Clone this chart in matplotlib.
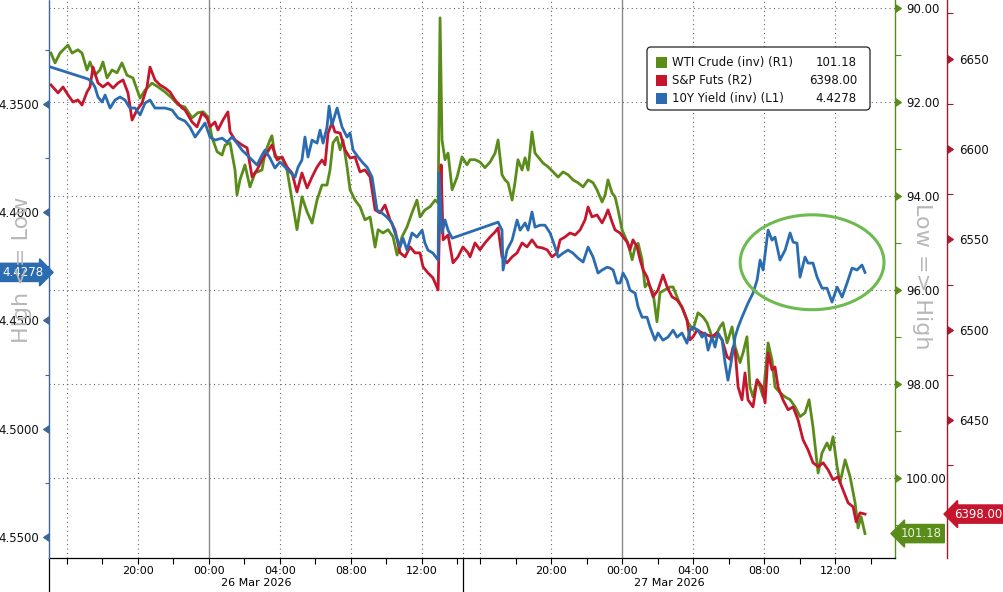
import matplotlib
matplotlib.use("Agg")
import matplotlib.pyplot as plt
import matplotlib.transforms as mtransforms
from matplotlib import markers
from matplotlib.patches import Ellipse, FancyBboxPatch, Rectangle

plt.rcParams['font.family'] = ['DejaVu Sans']

# time axis: hours since 15:00 on 25 Mar 2026, sessions packed back to back
SESSION = 23.3

wti_t = [0.11, 0.34, 0.62, 1.07, 1.30, 1.63, 1.86, 2.14, 2.31, 2.59,
         2.87, 3.04, 3.27, 3.55, 3.83, 4.11, 4.39, 4.73, 5.13, 5.41,
         5.80, 6.14, 6.54, 6.93, 7.27, 7.66, 8.06, 8.39, 8.68, 8.96,
         9.18, 9.47, 9.75, 9.92, 10.20, 10.48, 10.59, 10.76, 11.04, 11.32,
         11.61, 12.00, 12.17, 12.45, 12.56, 12.73, 13.13, 13.41, 13.69, 13.97,
         14.25, 14.54, 14.82, 15.10, 15.38, 15.66, 15.83, 16.00, 16.23, 16.40,
         16.56, 16.79, 16.96, 17.24, 17.52, 17.80, 18.09, 18.37, 18.54, 18.82,
         19.10, 19.38, 19.61, 19.89, 20.17, 20.45, 20.73, 20.90, 21.18, 21.47,
         21.75, 21.92, 22.03, 22.14, 22.31, 22.48, 22.71, 22.99, 23.27, 23.55,
         23.72, 24.00, 24.28, 24.56, 24.85, 25.13, 25.30, 25.52, 25.69, 25.86,
         26.09, 26.25, 26.42, 26.65, 26.82, 26.99, 27.21, 27.38, 27.55, 27.83,
         28.11, 28.40, 28.68, 28.96, 29.24, 29.52, 29.80, 30.09, 30.37, 30.65,
         30.87, 31.16, 31.33, 31.49, 31.72, 31.89, 32.06, 32.28, 32.45, 32.62,
         32.85, 33.02, 33.19, 33.41, 33.58, 33.75, 34.03, 34.25, 34.42, 34.71,
         34.99, 35.16, 35.44, 35.72, 36.00, 36.28, 36.56, 36.85, 37.07, 37.35,
         37.52, 37.80, 37.97, 38.20, 38.48, 38.65, 38.93, 39.10, 39.32, 39.49,
         39.66, 39.89, 40.06, 40.23, 40.51, 40.73, 40.90, 41.18, 41.47, 41.75,
         42.03, 42.31, 42.59, 42.82, 43.04, 43.33, 43.55, 43.83, 44.00, 44.17,
         44.40, 44.56, 44.85, 45.13, 45.41, 45.58, 45.75, 45.97]
wti = [90.95, 91.16, 90.95, 90.78, 90.95, 90.88, 90.95, 91.31, 91.14, 91.42,
       91.31, 91.14, 91.48, 91.31, 91.37, 91.16, 91.42, 91.48, 91.91, 91.74,
       91.59, 91.67, 91.78, 91.91, 92.05, 92.10, 92.33, 92.22, 92.20, 92.31,
       92.74, 93.05, 93.12, 92.91, 92.86, 93.44, 93.97, 93.65, 93.33, 93.80,
       93.50, 93.44, 93.08, 92.80, 92.71, 93.16, 93.18, 93.44, 94.08, 94.71,
       94.01, 94.33, 94.57, 94.08, 93.76, 93.76, 93.44, 92.86, 92.74, 93.01,
       92.80, 93.37, 93.86, 94.08, 94.22, 94.50, 94.44, 95.08, 94.71, 94.78,
       94.71, 94.86, 95.25, 94.86, 94.65, 94.35, 94.08, 94.44, 94.29, 94.22,
       94.08, 94.14, 90.20, 92.80, 93.22, 93.08, 93.86, 93.59, 93.16, 93.33,
       93.22, 93.22, 93.27, 93.39, 93.27, 93.08, 92.80, 93.54, 93.65, 93.71,
       94.08, 93.71, 93.22, 93.44, 93.18, 93.44, 92.63, 93.08, 93.16, 93.29,
       93.37, 93.48, 93.59, 93.48, 93.54, 93.65, 93.71, 93.80, 93.65, 93.71,
       93.86, 94.12, 93.97, 93.65, 93.93, 94.01, 94.29, 94.71, 94.86, 95.00,
       95.35, 95.08, 95.00, 95.35, 95.93, 95.84, 96.05, 96.67, 96.05, 95.99,
       95.93, 95.93, 96.20, 96.42, 96.69, 96.84, 96.48, 96.57, 96.69, 96.99,
       96.99, 96.78, 96.69, 97.12, 96.78, 97.20, 97.54, 97.33, 96.99, 98.06,
       98.27, 97.91, 98.06, 98.27, 97.12, 97.48, 98.06, 98.18, 98.27, 98.33,
       98.48, 98.69, 98.61, 98.33, 98.91, 99.89, 99.46, 99.25, 99.40, 99.12,
       99.76, 100.10, 99.61, 99.97, 100.52, 101.06, 100.82, 101.18]

spx_t = [0.11, 0.51, 0.79, 1.07, 1.35, 1.63, 1.86, 2.14, 2.31, 2.48,
         2.76, 3.04, 3.32, 3.61, 3.89, 4.17, 4.45, 4.68, 4.96, 5.24,
         5.52, 5.69, 5.97, 6.25, 6.54, 6.82, 7.10, 7.49, 7.66, 8.06,
         8.34, 8.62, 8.90, 9.07, 9.35, 9.52, 9.80, 10.08, 10.20, 10.48,
         10.87, 11.16, 11.44, 11.72, 12.00, 12.28, 12.56, 12.85, 13.13, 13.41,
         13.69, 13.97, 14.25, 14.54, 14.82, 15.10, 15.38, 15.55, 15.72, 15.94,
         16.11, 16.40, 16.68, 16.96, 17.24, 17.52, 17.80, 18.09, 18.37, 18.65,
         18.93, 19.21, 19.49, 19.78, 20.06, 20.34, 20.62, 20.90, 21.07, 21.35,
         21.63, 21.92, 22.03, 22.09, 22.20, 22.48, 22.76, 23.04, 23.32, 23.61,
         23.72, 24.00, 24.28, 24.56, 24.85, 25.13, 25.30, 25.52, 25.80, 26.09,
         26.37, 26.65, 26.93, 27.21, 27.49, 27.78, 28.06, 28.34, 28.62, 28.79,
         29.07, 29.35, 29.64, 29.92, 30.20, 30.37, 30.59, 30.87, 31.16, 31.33,
         31.49, 31.72, 31.89, 32.17, 32.34, 32.56, 32.73, 32.90, 33.13, 33.30,
         33.47, 33.69, 33.86, 34.03, 34.31, 34.59, 34.82, 35.10, 35.38, 35.66,
         35.94, 36.11, 36.28, 36.51, 36.79, 37.07, 37.35, 37.63, 37.92, 38.20,
         38.37, 38.54, 38.65, 38.82, 39.04, 39.21, 39.38, 39.66, 39.89, 40.17,
         40.34, 40.51, 40.73, 40.90, 41.07, 41.35, 41.64, 41.92, 42.20, 42.48,
         42.76, 43.04, 43.33, 43.61, 43.89, 44.17, 44.45, 44.73, 45.02, 45.30,
         45.47, 45.69, 45.97]
spx = [6635.4, 6631.0, 6634.3, 6629.9, 6626.0, 6627.1, 6624.3, 6631.5, 6634.3, 6645.3,
       6636.5, 6634.3, 6636.5, 6633.7, 6636.5, 6638.2, 6631.0, 6616.0, 6621.6, 6625.4,
       6634.3, 6645.3, 6638.2, 6635.4, 6633.7, 6631.5, 6627.1, 6622.7, 6621.6, 6614.9,
       6612.2, 6619.9, 6617.1, 6612.2, 6614.9, 6610.5, 6616.0, 6620.5, 6609.4, 6605.0,
       6602.2, 6600.6, 6584.5, 6588.4, 6593.9, 6597.8, 6602.2, 6593.9, 6595.6, 6590.0,
       6586.7, 6576.2, 6586.7, 6578.4, 6584.5, 6590.0, 6593.9, 6591.2, 6608.8, 6614.4,
       6609.4, 6608.8, 6599.4, 6595.0, 6595.6, 6587.3, 6588.4, 6584.5, 6566.3, 6564.6,
       6569.0, 6560.8, 6555.2, 6542.5, 6540.3, 6545.8, 6542.5, 6542.5, 6534.8, 6531.4,
       6528.7, 6522.0, 6571.8, 6591.2, 6549.7, 6552.4, 6537.0, 6540.3, 6545.8, 6542.5,
       6540.3, 6548.0, 6544.2, 6548.0, 6551.3, 6554.1, 6556.3, 6540.3, 6537.0, 6540.3,
       6542.5, 6548.0, 6545.8, 6549.7, 6545.8, 6545.3, 6544.2, 6540.3, 6542.5, 6549.7,
       6551.3, 6553.5, 6552.4, 6555.2, 6560.8, 6567.9, 6562.4, 6563.5, 6559.1, 6562.4,
       6566.3, 6559.6, 6555.2, 6553.5, 6551.3, 6548.6, 6544.2, 6549.7, 6545.8, 6538.6,
       6533.1, 6529.2, 6523.7, 6518.2, 6522.0, 6530.3, 6523.7, 6518.2, 6516.5, 6512.6,
       6505.4, 6494.4, 6496.0, 6499.9, 6498.3, 6497.2, 6496.0, 6498.3, 6494.4, 6485.0,
       6483.6, 6490.5, 6488.8, 6468.4, 6461.2, 6476.1, 6461.2, 6457.3, 6472.3, 6468.4,
       6459.5, 6487.2, 6477.8, 6479.4, 6468.4, 6461.2, 6455.7, 6457.3, 6450.1, 6439.1,
       6433.6, 6426.4, 6424.2, 6426.4, 6422.5, 6417.0, 6418.6, 6411.4, 6404.2, 6402.0,
       6393.7, 6398.7, 6398.0]

yld_t = [0.11, 2.20, 2.42, 2.59, 2.76, 2.99, 3.16, 3.44, 3.72, 4.00,
         4.28, 4.56, 4.85, 5.13, 5.41, 5.69, 5.97, 6.54, 6.93, 7.27,
         7.66, 7.94, 8.23, 8.51, 8.79, 9.07, 9.35, 9.75, 10.03, 10.31,
         10.59, 10.87, 11.16, 11.44, 11.72, 12.00, 12.17, 12.45, 12.73, 13.01,
         13.30, 13.58, 13.86, 14.03, 14.25, 14.42, 14.59, 14.82, 15.10, 15.27,
         15.44, 15.66, 15.78, 15.94, 16.23, 16.51, 16.79, 16.96, 17.13, 17.41,
         17.69, 17.92, 18.20, 18.37, 18.48, 18.76, 19.04, 19.32, 19.49, 19.78,
         19.94, 20.17, 20.45, 20.73, 21.02, 21.18, 21.35, 21.63, 21.92, 21.97,
         22.14, 22.31, 22.48, 22.71, 25.30, 25.52, 25.58, 25.80, 26.09, 26.37,
         26.54, 26.82, 26.99, 27.21, 27.38, 27.66, 27.94, 28.23, 28.51, 28.68,
         28.96, 29.24, 29.52, 29.80, 30.09, 30.37, 30.65, 30.93, 31.16, 31.44,
         31.61, 31.78, 32.00, 32.17, 32.34, 32.56, 32.73, 33.02, 33.19, 33.41,
         33.69, 33.86, 34.14, 34.31, 34.59, 34.87, 35.16, 35.38, 35.66, 35.94,
         36.11, 36.28, 36.56, 36.79, 36.96, 37.13, 37.35, 37.52, 37.69, 37.92,
         38.09, 38.25, 38.48, 38.65, 38.82, 39.04, 39.21, 39.38, 39.66, 39.89,
         40.06, 40.23, 40.51, 40.73, 40.90, 41.18, 41.47, 41.75, 41.92, 42.14,
         42.31, 42.59, 42.76, 43.04, 43.27, 43.55, 43.83, 44.11, 44.40, 44.68,
         44.96, 45.24, 45.52, 45.80, 45.97]
yld = [4.3330, 4.3385, 4.3399, 4.3422, 4.3468, 4.3491, 4.3459, 4.3519, 4.3482, 4.3468,
       4.3482, 4.3519, 4.3519, 4.3551, 4.3496, 4.3482, 4.3519, 4.3519, 4.3528, 4.3565,
       4.3579, 4.3607, 4.3653, 4.3621, 4.3588, 4.3653, 4.3667, 4.3658, 4.3676, 4.3653,
       4.3681, 4.3713, 4.3736, 4.3759, 4.3782, 4.3736, 4.3713, 4.3750, 4.3796, 4.3768,
       4.3792, 4.3815, 4.3838, 4.3792, 4.3759, 4.3653, 4.3745, 4.3667, 4.3681, 4.3621,
       4.3681, 4.3607, 4.3510, 4.3598, 4.3519, 4.3607, 4.3653, 4.3634, 4.3713, 4.3745,
       4.3773, 4.3792, 4.3838, 4.3930, 4.3990, 4.4004, 4.4023, 4.4050, 4.4096, 4.4161,
       4.4120, 4.4175, 4.4096, 4.4115, 4.4083, 4.4143, 4.4175, 4.4189, 4.4221, 4.3819,
       4.4096, 4.4036, 4.4083, 4.4120, 4.4046, 4.4083, 4.4267, 4.4175, 4.4129, 4.4036,
       4.4083, 4.4050, 4.4083, 4.3999, 4.4069, 4.4060, 4.4060, 4.4096, 4.4161, 4.4207,
       4.4189, 4.4175, 4.4189, 4.4212, 4.4230, 4.4161, 4.4207, 4.4281, 4.4267, 4.4254,
       4.4258, 4.4267, 4.4327, 4.4327, 4.4281, 4.4314, 4.4360, 4.4374, 4.4438, 4.4485,
       4.4485, 4.4531, 4.4591, 4.4558, 4.4591, 4.4577, 4.4545, 4.4577, 4.4558, 4.4605,
       4.4545, 4.4531, 4.4545, 4.4577, 4.4558, 4.4637, 4.4577, 4.4623, 4.4558, 4.4591,
       4.4697, 4.4776, 4.4669, 4.4577, 4.4531, 4.4485, 4.4452, 4.4420, 4.4374, 4.4314,
       4.4221, 4.4267, 4.4083, 4.4129, 4.4115, 4.4221, 4.4175, 4.4096, 4.4138, 4.4143,
       4.4300, 4.4207, 4.4235, 4.4235, 4.4300, 4.4351, 4.4351, 4.4415, 4.4346, 4.4392,
       4.4327, 4.4258, 4.4267, 4.4244, 4.4278]

assert len(wti_t) == len(wti) and len(spx_t) == len(spx) and len(yld_t) == len(yld)

sessions = [0.0, SESSION]
session_dates = ['26 Mar 2026', '27 Mar 2026']
tick_clock = [16, 18, 20, 22, 0, 2, 4, 6, 8, 10, 12, 14]
label_clock = [20, 0, 4, 8, 12]
grid_clock = [16, 20, 4, 8, 12]

GREEN = '#5a8c1a'
RED = '#c5162e'
BLUE = '#2b6cb0'
GRID = '#666666'

W, H = 1004, 592
fig = plt.figure(figsize=(W / 100, H / 100), dpi=100)
L, R, B = 49, 895, 558
ax_g = fig.add_axes([L / W, 1 - B / H, (R - L) / W, B / H])
ax_r = ax_g.twinx()
ax_b = ax_g.twinx()

ax_g.set_xlim(0, 47.66)
ax_g.set_ylim(101.70, 89.82)
ax_r.set_ylim(6373.7, 6682.4)
ax_b.set_ylim(4.5597, 4.302)

ax_g.plot(wti_t, wti, color=GREEN, lw=2.0, solid_joinstyle='round')
ax_r.plot(spx_t, spx, color=RED, lw=2.0, solid_joinstyle='round')
ax_b.plot(yld_t, yld, color=BLUE, lw=2.0, solid_joinstyle='round')

for a in (ax_g, ax_r, ax_b):
    for s in a.spines.values():
        s.set_visible(False)
ax_g.spines['bottom'].set_visible(True)
ax_g.spines['bottom'].set_color('black')
ax_g.spines['bottom'].set_linewidth(0.9)
ax_g.spines['right'].set_visible(True)
ax_g.spines['right'].set_color(GREEN)
ax_g.spines['right'].set_linewidth(1.0)
ax_r.spines['right'].set_visible(True)
ax_r.spines['right'].set_color('#9e1a2c')
ax_r.spines['right'].set_linewidth(1.0)
ax_r.spines['right'].set_position(('outward', 52 * 0.72))
ax_b.spines['left'].set_visible(True)
ax_b.spines['left'].set_color('#3d6896')
ax_b.spines['left'].set_linewidth(1.0)
ax_b.spines['left'].set_linestyle((0, (1.5, 1)))

def pos(start, h):
    return start + (h - 15) % 24

# x axis
maj = [pos(s, h) for s in sessions for h in label_clock]
mnr = [pos(s, h) for s in sessions for h in tick_clock if h not in label_clock]
ax_g.set_xticks(maj)
ax_g.set_xticklabels([f'{h:02d}:00' for s in sessions for h in label_clock])
ax_g.set_xticks(mnr, minor=True)
ax_g.tick_params(axis='x', which='both', length=4, width=0.8, color='black',
                 direction='out', labelsize=8, pad=1.5)

for s in sessions:
    for h in grid_clock:
        ax_g.axvline(pos(s, h), color=GRID, lw=0.8, ls=(0, (1, 3)), zorder=0)
    ax_g.axvline(pos(s, 0), color='#8a8a8a', lw=1.0, zorder=0)
ax_g.axvline(SESSION, color=GRID, lw=0.8, ls=(0, (1, 3)), zorder=0)

xblend = mtransforms.blended_transform_factory(ax_g.transData, ax_g.transAxes)
for s, d in zip(sessions, session_dates):
    ax_g.plot([s, s], [0, -0.065], transform=xblend, color='black', lw=0.9,
              clip_on=False)
    ax_g.text(s + SESSION / 2, -0.045, d, transform=xblend, ha='center',
              va='center', fontsize=8)

# green axis (WTI, inverted)
ax_g.yaxis.tick_right()
ax_g.set_yticks(range(90, 101, 2))
ax_g.set_yticklabels([f'{v:.2f}' for v in range(90, 101, 2)])
ax_g.set_yticks(range(91, 102, 2), minor=True)
ax_g.tick_params(axis='y', which='major', length=6, width=0.8, labelsize=8.5,
                 pad=2, labelcolor='#111111')
ax_g.tick_params(axis='y', which='minor', length=4, width=0.8, color=GREEN)
ax_g.yaxis.grid(True, which='major', color=GRID, lw=0.8, ls=(0, (1, 3)))

# red axis (S&P)
spx_ticks = [6450, 6500, 6550, 6600, 6650]
ax_r.set_yticks(spx_ticks)
ax_r.set_yticklabels([str(v) for v in spx_ticks])
ax_r.set_yticks([6425, 6475, 6525, 6575, 6625, 6675], minor=True)
ax_r.tick_params(axis='y', which='major', length=6, width=0.8, labelsize=8.5,
                 pad=3, labelcolor='#111111')
ax_r.tick_params(axis='y', which='minor', length=4, width=0.8, color='#9e1a2c')

# blue axis (10Y, inverted, left)
ax_b.yaxis.tick_left()
yld_ticks = [4.35, 4.40, 4.45, 4.50, 4.55]
ax_b.set_yticks(yld_ticks)
ax_b.set_yticklabels([f'{v:.4f}' for v in yld_ticks])
ax_b.set_yticks([4.325, 4.375, 4.425, 4.475, 4.525], minor=True)
ax_b.tick_params(axis='y', which='major', length=6, width=0.8, labelsize=8.5,
                 pad=1, labelcolor='#111111')
ax_b.tick_params(axis='y', which='minor', length=3, width=0.8, color='#3d6896')

for t in ax_g.yaxis.get_major_ticks():
    t.tick2line.set_marker(markers.CARETRIGHTBASE)
    t.tick2line.set_markerfacecolor(GREEN)
    t.tick2line.set_markeredgecolor(GREEN)
for t in ax_r.yaxis.get_major_ticks():
    t.tick2line.set_marker(markers.CARETRIGHTBASE)
    t.tick2line.set_markerfacecolor('#b01a30')
    t.tick2line.set_markeredgecolor('#b01a30')
for t in ax_b.yaxis.get_major_ticks():
    t.tick1line.set_marker(markers.CARETLEFTBASE)
    t.tick1line.set_markerfacecolor('#3d6896')
    t.tick1line.set_markeredgecolor('#3d6896')

# last-value tags
bb = mtransforms.blended_transform_factory(ax_b.transAxes, ax_b.transData)
ax_b.text(-0.031, yld[-1], f'{yld[-1]:.4f}', transform=bb, ha='center', va='center',
          color='white', fontsize=8.5, clip_on=False, zorder=10,
          bbox=dict(boxstyle='rarrow,pad=0.22', fc=BLUE, ec=BLUE))
bg = mtransforms.blended_transform_factory(ax_g.transAxes, ax_g.transData)
ax_g.text(1.031, wti[-1], f'{wti[-1]:.2f}', transform=bg, ha='center', va='center',
          color='#eaf5da', fontsize=8.5, clip_on=False, zorder=10,
          bbox=dict(boxstyle='larrow,pad=0.22', fc=GREEN, ec=GREEN))
br = mtransforms.blended_transform_factory(ax_r.transAxes, ax_r.transData)
ax_r.text(1.098, spx[-1], f'{spx[-1]:.2f}', transform=br, ha='center', va='center',
          color='white', fontsize=8.5, clip_on=False, zorder=10,
          bbox=dict(boxstyle='larrow,pad=0.22', fc=RED, ec=RED))

# highlight ellipse
ax_b.add_patch(Ellipse((0.902, 0.53), 0.170, 0.170, transform=ax_b.transAxes,
                       fill=False, ec='#6dbb4f', lw=2.2, clip_on=False, zorder=5))

# side captions
fig.text(22 / W, 1 - 270 / H, 'High <= Low', rotation=90, ha='center', va='center',
         fontsize=16, color='#b8b8b8')
fig.text(922 / W, 1 - 276 / H, 'Low => High', rotation=270, ha='center', va='center',
         fontsize=16, color='#b8b8b8')

# legend drawn in pixel space (y from top)
px = mtransforms.Affine2D().scale(1 / W, -1 / H).translate(0, 1) + fig.transFigure
fig.patches.append(FancyBboxPatch((647, 47), 223, 63, boxstyle='round,pad=0,rounding_size=4',
                                  transform=px, fc='white', ec='#222222', lw=0.9))
leg_rows = [('WTI Crude (inv) (R1)', f'{wti[-1]:.2f}', GREEN),
            ('S&P Futs (R2)', f'{spx[-1]:.2f}', RED),
            ('10Y Yield (inv) (L1)', f'{yld[-1]:.4f}', BLUE)]
for i, (lab, val, col) in enumerate(leg_rows):
    yc = 62.5 + 18 * i
    fig.patches.append(Rectangle((656, yc - 5.5), 11, 11, transform=px, fc=col, ec='none'))
    fig.text(672 / W, 1 - yc / H, lab, ha='left', va='center', fontsize=8.5, color='#111111')
    fig.text(857 / W, 1 - yc / H, val, ha='right', va='center', fontsize=8.5, color='#111111')

fig.savefig('out.png', dpi=100)
